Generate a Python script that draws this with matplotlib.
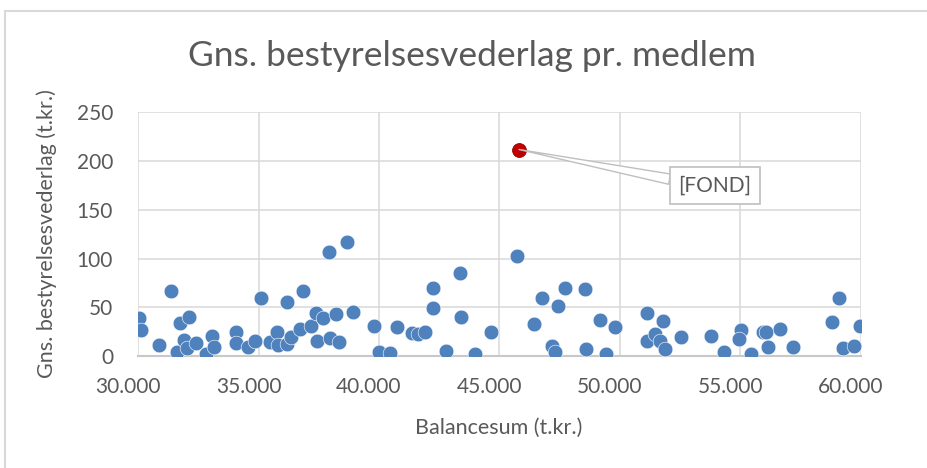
import matplotlib
matplotlib.use('Agg')
import matplotlib.pyplot as plt
import matplotlib.transforms as mtransforms
from matplotlib.patches import Rectangle
from matplotlib.ticker import FuncFormatter, MultipleLocator

# Balancesum (t.kr.) and average board fee per member (t.kr.)
balance = [30050, 30110, 30880, 31370, 31740, 32130, 31630, 31910, 32050, 32410,
           32820, 33070, 33150, 34070, 34050, 34550, 34870, 35100, 35480, 35760,
           35800, 36170, 36170, 36340, 36720, 36860, 37180, 37390, 37420, 37690,
           37940, 37970, 38220, 38330, 38690, 38910, 39790, 40000, 40460, 40760,
           41360, 41610, 41910, 42250, 42240, 42780, 43360, 43400, 43990, 44660,
           45720, 46440, 46780, 47190, 47300, 47440, 47710, 48550, 48590, 49170,
           49410, 49800, 51110, 51110, 51460, 51780, 51660, 51870, 52520, 53780,
           54330, 55010, 54930, 55430, 55920, 56060, 56150, 56620, 57170, 58790,
           59100, 59270, 59710, 59960]
fee = [38.7, 26.7, 11.3, 66.7, 34.2, 39.7, 3.8, 16.4, 7.9, 13.0,
       1.7, 20.5, 9.6, 25.0, 13.0, 9.6, 15.7, 60.0, 14.7, 25.0,
       11.3, 12.0, 55.0, 19.0, 27.4, 66.7, 30.8, 43.8, 15.7, 39.3,
       106.5, 18.0, 43.4, 14.0, 117.0, 44.9, 30.8, 3.8, 3.4, 30.0,
       24.0, 22.6, 24.3, 70.0, 49.6, 5.5, 85.6, 39.7, 2.4, 24.6,
       103.0, 32.9, 59.2, 10.6, 3.8, 51.6, 69.5, 69.1, 6.9, 37.0,
       2.0, 29.8, 43.9, 15.7, 23.0, 35.6, 15.7, 6.9, 19.8, 20.9,
       3.8, 26.3, 17.0, 1.7, 24.3, 24.3, 9.6, 27.4, 9.6, 35.0,
       60.0, 8.2, 10.3, 30.8]

# the highlighted one
fond_balance = [45810]
fond_fee = [212.0]
fond_label = '[FOND]'

title = 'Gns. bestyrelsesvederlag pr. medlem'
xlabel = 'Balancesum (t.kr.)'
ylabel = 'Gns. bestyrelsesvederlag (t.kr.)'

FONT = 'Lato'
TXT = '#595959'
GRID = '#D9D9D9'
BLUE = '#4F81BD'
RED = '#C00000'

W, H, DPI = 928, 468, 100
fig = plt.figure(figsize=(W / DPI, H / DPI), dpi=DPI)
ax = fig.add_axes([138 / W, 1 - 356 / H, (861 - 138) / W, (356 - 112.5) / H])

ax.scatter(balance, fee, s=112, color=BLUE, edgecolors='white', linewidths=0.4, zorder=3)
ax.scatter(fond_balance, fond_fee, s=100, color=RED, edgecolors='#A00000', linewidths=0.6, zorder=4)

ax.set_xlim(30000, 60000)
ax.set_ylim(0, 250)
ax.xaxis.set_major_locator(MultipleLocator(5000))
ax.yaxis.set_major_locator(MultipleLocator(50))
ax.xaxis.set_major_formatter(FuncFormatter(lambda v, p: f'{int(v):,}'.replace(',', '.')))
ax.grid(True, color=GRID, linewidth=1.1)
ax.set_axisbelow(True)
for side in ['top', 'right', 'left']:
    ax.spines[side].set_visible(False)
ax.spines['bottom'].set_color('#C8C8C8')
ax.spines['bottom'].set_linewidth(1.5)
ax.tick_params(length=0, labelsize=15, labelcolor=TXT)
ax.tick_params(axis='x', pad=15)
ax.tick_params(axis='y', pad=18)
for lab in ax.get_xticklabels() + ax.get_yticklabels():
    lab.set_fontfamily(FONT)

# excel puts the x labels a bit left of the gridlines
shift = mtransforms.ScaledTranslation(-10 / DPI, 0, fig.dpi_scale_trans)
for lab in ax.get_xticklabels():
    lab.set_transform(lab.get_transform() + shift)

ax.annotate(fond_label, xy=(fond_balance[0], fond_fee[0]), xytext=(196, -36),
            textcoords='offset pixels', ha='center', va='center',
            fontsize=15, color=TXT, family=FONT, zorder=5,
            bbox=dict(boxstyle='square,pad=0.4', fc='white', ec='#BFBFBF', lw=1.2),
            arrowprops=dict(arrowstyle='wedge,tail_width=0.5,shrink_factor=0.5',
                            fc='white', ec='#BFBFBF', lw=1.0,
                            relpos=(0, 0.73), shrinkA=0, shrinkB=0))

fig.text(472 / W, 1 - 56 / H, title, ha='center', va='center',
         fontsize=25.5, color=TXT, family=FONT, fontweight='normal')
fig.text(499 / W, 1 - 428 / H, xlabel, ha='center', va='center',
         fontsize=15.5, color=TXT, family=FONT)
fig.text(47 / W, 1 - 234 / H, ylabel, ha='center', va='center', rotation=90,
         fontsize=15.5, color=TXT, family=FONT)

# chart frame, cut off at the right and bottom like in the screenshot
fig.patches.append(Rectangle((5 / W, -0.1), 2, 1 - 11 / H + 0.1, transform=fig.transFigure,
                             fill=False, edgecolor=GRID, linewidth=1.5))

fig.savefig('out.png', dpi=DPI)
